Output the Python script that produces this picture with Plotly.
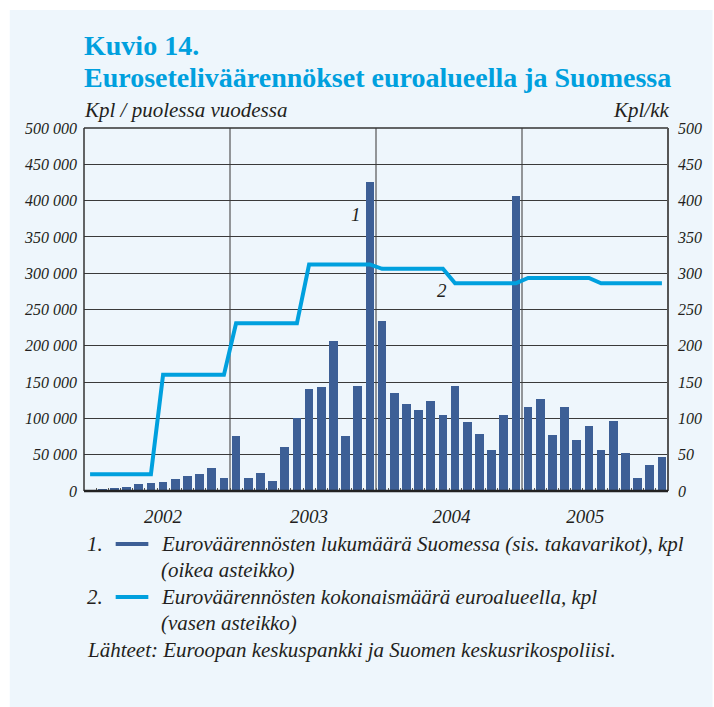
import plotly.graph_objects as go

# ---------------- data ----------------
years = [2002, 2003, 2004, 2005]
periods = [f"{y}-{m:02d}" for y in years for m in range(1, 13)]

# Counterfeits found in Finland, pieces per month (right axis)
finland = [1, 2, 4, 6, 9, 11, 12, 17, 21, 23, 31, 18,
           76, 18, 25, 14, 60, 101, 140, 143, 207, 76, 145, 426,
           234, 135, 120, 112, 124, 105, 144, 95, 78, 57, 105, 406,
           116, 127, 77, 116, 70, 90, 57, 97, 52, 18, 36, 47]

# Counterfeits in the whole euro area, pieces per half-year (left axis), drawn monthly
euro_area = [23000, 23000, 23000, 23000, 23000, 23000,
             160000, 160000, 160000, 160000, 160000, 160000,
             231000, 231000, 231000, 231000, 231000, 231000,
             312000, 312000, 312000, 312000, 312000, 312000,
             306000, 306000, 306000, 306000, 306000, 306000,
             286000, 286000, 286000, 286000, 286000, 286000,
             293500, 293500, 293500, 293500, 293500, 293500,
             286000, 286000, 286000, 286000, 286000, 286000]

left_ticks = [0, 50000, 100000, 150000, 200000, 250000, 300000, 350000, 400000, 450000, 500000]
left_labels = ["0", "50 000", "100 000", "150 000", "200 000", "250 000",
               "300 000", "350 000", "400 000", "450 000", "500 000"]
right_ticks = [0, 50, 100, 150, 200, 250, 300, 350, 400, 450, 500]
right_labels = ["0", "50", "100", "150", "200", "250", "300", "350", "400", "450", "500"]
year_labels = ["2002", "2003", "2004", "2005"]

title1 = "Kuvio 14."
title2 = "Euroseteliväärennökset euroalueella ja Suomessa"
left_unit = "Kpl / puolessa vuodessa"
right_unit = "Kpl/kk"
legend1a = "Euroväärennösten lukumäärä Suomessa (sis. takavarikot), kpl"
legend1b = "(oikea asteikko)"
legend2a = "Euroväärennösten kokonaismäärä euroalueella, kpl"
legend2b = "(vasen asteikko)"
source = "Lähteet: Euroopan keskuspankki ja Suomen keskusrikospoliisi."

# ---------------- styling ----------------
BAR = "#3D5F96"
LINE = "#00A0DE"
TXT = "#231F20"
BG = "#EEF6FC"
FONT = "Liberation Serif"

W, H = 714, 707
L, R, T, B = 84, 674, 128, 491   # plot area in pixels


def px(x):
    return (x - L) / (R - L)


def py(y):
    return (B - y) / (B - T)


x = list(range(1, len(periods) + 1))

fig = go.Figure()
fig.add_trace(go.Bar(x=x, y=finland, marker=dict(color=BAR, line=dict(width=0)),
                     width=0.72, yaxis="y", name="1"))
fig.add_trace(go.Scatter(x=x, y=euro_area, mode="lines", line=dict(color=LINE, width=4),
                         yaxis="y2", name="2"))

year_label_pos = [7.0, 19.0, 30.7, 41.7]

shapes = []
# background panel
shapes.append(dict(type="rect", xref="paper", yref="paper", x0=px(9), x1=px(W + 5),
                   y0=py(H + 5), y1=py(10), fillcolor=BG, line=dict(width=0), layer="below"))
# year separators
for k in range(1, len(years)):
    xb = 12 * k + 0.5
    shapes.append(dict(type="line", xref="x", yref="paper", x0=xb, x1=xb, y0=0, y1=1,
                       line=dict(color="#555555", width=1.2), layer="below"))
# frame
shapes.append(dict(type="line", xref="paper", yref="paper", x0=0, x1=1, y0=1, y1=1,
                   line=dict(color="#333333", width=1.5)))
shapes.append(dict(type="line", xref="paper", yref="paper", x0=0, x1=0, y0=0, y1=1,
                   line=dict(color="#333333", width=1.5)))
shapes.append(dict(type="line", xref="paper", yref="paper", x0=1, x1=1, y0=0, y1=1,
                   line=dict(color="#555555", width=2)))
shapes.append(dict(type="line", xref="paper", yref="paper", x0=0, x1=1, y0=0, y1=0,
                   line=dict(color="#222222", width=2.5)))
# legend keys
shapes.append(dict(type="line", xref="paper", yref="paper", x0=px(116), x1=px(149),
                   y0=py(544), y1=py(544), line=dict(color=BAR, width=4)))
shapes.append(dict(type="line", xref="paper", yref="paper", x0=px(116), x1=px(149),
                   y0=py(597), y1=py(597), line=dict(color=LINE, width=4)))

ann = []


def text(t, xp, yp, size, xanchor="left", color=TXT, bold=False, italic=True):
    ann.append(dict(text=t, x=px(xp), y=py(yp), xref="paper", yref="paper",
                    xanchor=xanchor, yanchor="middle", showarrow=False,
                    font=dict(family=FONT, size=size, color=color,
                              weight="bold" if bold else "normal",
                              style="italic" if italic else "normal")))


text(title1, 82, 46, 28, color=LINE, bold=True, italic=False)
text(title2, 82, 77, 28, color=LINE, bold=True, italic=False)
text(left_unit, 82, 110, 21)
text(right_unit, 677, 110, 21, xanchor="right")
text("1", 359, 214, 19, xanchor="center")
text("2", 446, 290, 19, xanchor="center")
text("1.", 85, 544, 21)
text(legend1a, 160, 544, 21)
text(legend1b, 160, 570, 21)
text("2.", 85, 597, 21)
text(legend2a, 160, 597, 21)
text(legend2b, 160, 623, 21)
text(source, 85, 650, 21)

fig.update_layout(
    width=W, height=H,
    margin=dict(l=L, r=W - R, t=T, b=H - B, pad=0),
    paper_bgcolor="white", plot_bgcolor=BG,
    showlegend=False, bargap=0,
    font=dict(family=FONT, color=TXT),
    xaxis=dict(range=[0.5, len(periods) + 0.5], tickvals=year_label_pos,
               ticktext=year_labels, ticks="", showgrid=False,
               zeroline=False, showline=False,
               tickfont=dict(family=FONT, size=19, color=TXT, style="italic"),
               ticklabelstandoff=12,
               minor=dict(tickvals=[m + 0.5 for m in range(1, len(periods))],
                          ticks="inside", ticklen=3, tickcolor="#555555", tickwidth=1,
                          showgrid=False)),
    yaxis=dict(range=[0, 500], tickvals=right_ticks, ticktext=right_labels, side="right",
               showgrid=True, gridcolor="#3a3a3a", gridwidth=1, zeroline=False,
               showline=False, ticks="",
               tickfont=dict(family=FONT, size=16, color=TXT, style="italic"),
               ticklabelstandoff=9),
    yaxis2=dict(range=[0, 500000], tickvals=left_ticks, ticktext=left_labels, side="left",
                overlaying="y", showgrid=False, zeroline=False, showline=False, ticks="",
                tickfont=dict(family=FONT, size=16, color=TXT, style="italic"),
                ticklabelstandoff=6),
    shapes=shapes,
    annotations=ann,
)

fig.write_html("out.html", config={"displayModeBar": False},
               post_script="document.body.style.margin='0';document.body.style.overflow='hidden';")
